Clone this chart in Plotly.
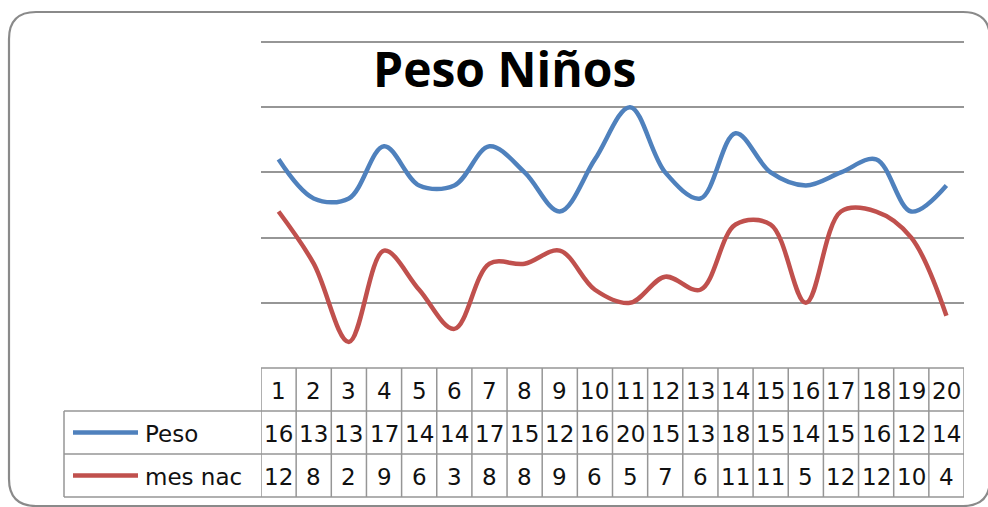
import plotly.graph_objects as go

# Data
ninos = list(range(1, 21))
peso = [16, 13, 13, 17, 14, 14, 17, 15, 12, 16, 20, 15, 13, 18, 15, 14, 15, 16, 12, 14]
mes_nac = [12, 8, 2, 9, 6, 3, 8, 8, 9, 6, 5, 7, 6, 11, 11, 5, 12, 12, 10, 4]
series_names = ["Peso", "mes nac"]
series_colors = ["#4F81BD", "#C0504D"]

W, H = 988, 507


def px(x):
    return x / W


def py(y):
    return (H - y) / H


# Layout geometry (pixels)
PLOT_L, PLOT_R = 261, 964
Y_MAX = 25.1
PX_PER_UNIT = (368 - 42) / 25.0
PLOT_BOT = 368
PLOT_TOP = PLOT_BOT - Y_MAX * PX_PER_UNIT
ROW_Y = [368, 411, 454, 497]
LEG_L = 64
GRID = "#969696"

fig = go.Figure()
for name, vals, col in zip(series_names, [peso, mes_nac], series_colors):
    fig.add_trace(go.Scatter(
        x=ninos, y=vals, name=name, mode="lines",
        line=dict(color=col, width=4.5, shape="spline", smoothing=1.0),
        showlegend=False, hoverinfo="skip",
    ))

shapes = []
annotations = []

# Outer rounded frame
x0, y0, x1, y1, r = 9, 12, 990, 506, 27
path = (
    f"M {px(x0 + r)},{py(y0)} L {px(x1 - r)},{py(y0)} "
    f"Q {px(x1)},{py(y0)} {px(x1)},{py(y0 + r)} "
    f"L {px(x1)},{py(y1 - r)} Q {px(x1)},{py(y1)} {px(x1 - r)},{py(y1)} "
    f"L {px(x0 + r)},{py(y1)} Q {px(x0)},{py(y1)} {px(x0)},{py(y1 - r)} "
    f"L {px(x0)},{py(y0 + r)} Q {px(x0)},{py(y0)} {px(x0 + r)},{py(y0)} Z"
)
shapes.append(dict(type="path", xref="paper", yref="paper", path=path,
                   line=dict(color="#8a8a8a", width=2.2), layer="below"))

# Data table grid: horizontal rules
shapes.append(dict(type="line", xref="paper", yref="paper",
                   x0=px(PLOT_L), x1=px(PLOT_R), y0=py(ROW_Y[0]), y1=py(ROW_Y[0]),
                   line=dict(color=GRID, width=1.5)))
for yy in ROW_Y[1:]:
    shapes.append(dict(type="line", xref="paper", yref="paper",
                       x0=px(LEG_L), x1=px(PLOT_R), y0=py(yy), y1=py(yy),
                       line=dict(color=GRID, width=1.5)))
# vertical rules between categories
for i in range(len(ninos) + 1):
    xv = ninos[0] - 0.5 + i
    shapes.append(dict(type="line", xref="x", yref="paper",
                       x0=xv, x1=xv, y0=py(ROW_Y[0]), y1=py(ROW_Y[3]),
                       line=dict(color=GRID, width=1.5)))
shapes.append(dict(type="line", xref="paper", yref="paper",
                   x0=px(LEG_L), x1=px(LEG_L), y0=py(ROW_Y[1]), y1=py(ROW_Y[3]),
                   line=dict(color=GRID, width=1.5)))

TFONT = dict(family="DejaVu Sans", size=23, color="#111111")

# Header row (categories)
for n in ninos:
    annotations.append(dict(x=n, y=py((ROW_Y[0] + ROW_Y[1]) / 2 + 1), xref="x", yref="paper",
                            text=str(n), showarrow=False, font=TFONT,
                            xanchor="center", yanchor="middle"))
# Series rows with legend keys
for k, (name, vals, col) in enumerate(zip(series_names, [peso, mes_nac], series_colors)):
    yc = (ROW_Y[k + 1] + ROW_Y[k + 2]) / 2
    shapes.append(dict(type="line", xref="paper", yref="paper",
                       x0=px(73), x1=px(138), y0=py(yc), y1=py(yc),
                       line=dict(color=col, width=4.5)))
    annotations.append(dict(x=px(143), y=py(yc + 1), xref="paper", yref="paper",
                            text=name, showarrow=False, font=TFONT,
                            xanchor="left", yanchor="middle"))
    for n, v in zip(ninos, vals):
        annotations.append(dict(x=n, y=py(yc + 1), xref="x", yref="paper",
                                text=str(v), showarrow=False, font=TFONT,
                                xanchor="center", yanchor="middle"))

# Title
annotations.append(dict(x=px(505), y=py(68), xref="paper", yref="paper",
                        text="<b>Peso Niños</b>", showarrow=False,
                        font=dict(family="Open Sans", size=48, color="#000000"),
                        xanchor="center", yanchor="middle"))

fig.update_layout(
    width=W, height=H,
    margin=dict(l=0, r=0, t=0, b=0),
    paper_bgcolor="white", plot_bgcolor="white",
    shapes=shapes, annotations=annotations,
    xaxis=dict(domain=[px(PLOT_L), px(PLOT_R)], range=[0.5, 20.5],
               showgrid=False, zeroline=False, showticklabels=False, showline=False),
    yaxis=dict(domain=[py(PLOT_BOT), py(PLOT_TOP)], range=[0, Y_MAX],
               tickvals=[5, 10, 15, 20, 25], showgrid=True, gridcolor=GRID, gridwidth=1.5,
               zeroline=False, showticklabels=False, showline=False),
)

fig.write_html("out.html")
